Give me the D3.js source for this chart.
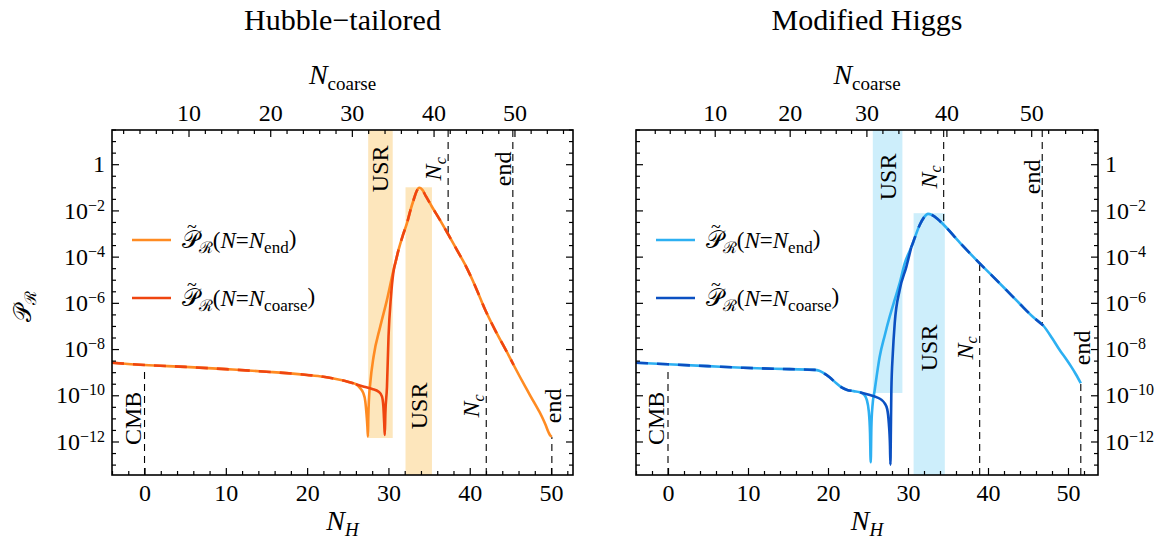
<!DOCTYPE html>
<html><head><meta charset="utf-8">
<script src="https://cdn.jsdelivr.net/npm/d3@7"></script>
<style>
body{margin:0;background:#fff;}
svg text{font-family:"Liberation Serif","Times New Roman",serif;fill:#000;}
</style></head><body>
<svg id="chart" width="1172" height="541" font-family="Liberation Serif"></svg>
<script>
// ---------------- data ----------------
const panelTitles = ["Hubble\u2212tailored", "Modified Higgs"];
const xTickValues = [0, 10, 20, 30, 40, 50];
const coarseTickValues = [10, 20, 30, 40, 50];
const yTickExponents = [0, -2, -4, -6, -8, -10, -12];
const legendLabels = ["end", "coarse"];

// N_coarse ticks located on the N_H axis
const htCoarseKnots = [10, 20, 30, 40, 50];
const htCoarseAtNH  = [5.41, 15.46, 25.50, 35.55, 45.50];
const mhCoarseKnots = [10, 20, 30, 40, 50];
const mhCoarseAtNH  = [5.84, 15.21, 24.80, 34.80, 45.40];

// curves: [N_H, log10 P_R]
// Hubble-tailored
const htShared1 = [[-4,-8.59],[0,-8.69],[5,-8.77],[10,-8.87],[15,-8.98],[20,-9.12],[22,-9.2],[24,-9.33],[25,-9.41],[26,-9.52]];
const htEndBranch = [[26,-9.52],[26.5,-9.68],[26.9,-9.9],[27.15,-10.25],[27.3,-10.8],[27.42,-11.4],[27.48,-11.79],[27.52,-11.0],[27.6,-10.2],[27.76,-9.48],[28.17,-8.33],[28.99,-7.03],[29.82,-5.87],[30.63,-4.58],[30.9,-4.2]];
const htCoarseBranch = [[26,-9.52],[27,-9.63],[28,-9.73],[28.8,-9.85],[29.2,-10.05],[29.38,-10.5],[29.48,-11.2],[29.55,-11.72],[29.62,-10.8],[29.82,-9.63],[30.01,-7.46],[30.31,-5.73],[30.6,-4.7],[30.9,-4.2]];
const htShared2 = [[30.9,-4.2],[31.24,-3.71],[31.8,-3.05],[32.28,-2.55],[32.7,-2.0],[33.09,-1.55],[33.45,-1.18],[33.8,-1.02],[34.15,-1.1],[34.6,-1.38],[35.35,-1.84],[36.4,-2.45],[37.39,-3.06],[38.4,-3.7],[39.45,-4.36],[40.7,-5.3],[41.91,-6.31],[43.3,-7.3],[44.77,-8.26],[45.4,-8.69]];
const htEndTail = [[45.4,-8.69],[46.83,-9.63],[47.9,-10.3],[48.88,-10.93],[49.35,-11.3],[49.69,-11.6],[49.95,-11.76],[50.1,-11.79]];
// Modified Higgs
const mhShared1 = [[-4,-8.59],[0,-8.66],[5,-8.74],[9.4,-8.81],[15.2,-8.87],[18.3,-8.9],[18.9,-8.94],[19.5,-9.05],[20.2,-9.22],[21.0,-9.47],[21.7,-9.66],[22.4,-9.77],[23.2,-9.82],[24.0,-9.87]];
const mhEndBranch = [[24.0,-9.87],[24.5,-9.97],[24.85,-10.2],[25.1,-10.7],[25.25,-11.6],[25.34,-12.9],[25.42,-11.4],[25.55,-10.5],[25.84,-9.77],[26.46,-8.33],[27.1,-7.4],[27.71,-6.6],[28.35,-5.85],[28.96,-5.15],[29.59,-4.29],[30.4,-3.6]];
const mhCoarseBranch = [[24.0,-9.87],[25.0,-9.97],[26.05,-10.08],[26.7,-10.2],[27.09,-10.35],[27.4,-10.6],[27.6,-11.2],[27.75,-12.2],[27.8,-13.0],[27.86,-11.5],[27.92,-9.77],[28.1,-8.2],[28.34,-6.88],[28.96,-5.44],[29.8,-4.43],[30.4,-3.6]];
const mhShared2 = [[30.4,-3.6],[30.6,-3.42],[31.46,-2.63],[32.0,-2.3],[32.5,-2.15],[33.0,-2.2],[33.7,-2.37],[34.4,-2.6],[36.5,-3.4],[38.96,-4.29],[40.5,-4.82],[42.3,-5.45],[44.0,-6.05],[45.6,-6.6],[46.9,-6.98]];
const mhEndTail = [[46.9,-6.98],[48.0,-7.52],[48.96,-8.04],[49.7,-8.4],[50.4,-8.76],[51.0,-9.1],[51.6,-9.48]];

// annotations
// top (N_coarse): USR band [from,to], band lower end log10P ; lines [label, N_coarse, lower end log10P]
const htTopUSR = [32.0, 35.0, -11.85];
const htTopLines = [["Nc", 41.8, -3.06], ["end", 49.8, -8.26]];
// bottom (N_H): USR band [from,to], band upper end log10P ; lines [label, N_H, upper end log10P]
const htBottomUSR = [32.1, 35.35, -1.0];
const htBottomLines = [["CMB", 0, -8.82], ["Nc", 42.03, -6.81], ["end", 50.1, -11.79]];
const mhTopUSR = [30.8, 34.5, -9.9];
const mhTopLines = [["Nc", 39.66, -2.48], ["end", 51.3, -6.96]];
const mhBottomUSR = [30.7, 34.6, -2.12];
const mhBottomLines = [["CMB", 0, -8.83], ["Nc", 38.96, -4.29], ["end", 51.6, -9.48]];

// ---------------- drawing ----------------
const SERIF = "Liberation Serif";
const MATHF = "DejaVu Serif";
const svg = d3.select("#chart");
const yTop = 130, yBot = 475;
const yExpDomain = [-13.45, 1.48];
const y = d3.scaleLog().domain([Math.pow(10, yExpDomain[0]), Math.pow(10, yExpDomain[1])]).range([yBot, yTop]);
const P = e => Math.pow(10, e);

const panels = [
  {title: panelTitles[0], x0: 112, x1: 573, xDom: [-4, 52.7], knots: htCoarseKnots, atNH: htCoarseAtNH,
   s1: htShared1, eb: htEndBranch, cb: htCoarseBranch, s2: htShared2, et: htEndTail,
   cEnd: "#ff8b22", cCoarse: "#ef4510", band: "#fde6bc",
   topUSR: htTopUSR, topLines: htTopLines, botUSR: htBottomUSR, botLines: htBottomLines,
   topLabelL: -0.2, botLabelL: -10.46, yLabels: "left"},
  {title: panelTitles[1], x0: 636, x1: 1098, xDom: [-4, 53.75], knots: mhCoarseKnots, atNH: mhCoarseAtNH,
   s1: mhShared1, eb: mhEndBranch, cb: mhCoarseBranch, s2: mhShared2, et: mhEndTail,
   cEnd: "#2db0f2", cCoarse: "#0b50c2", band: "#cdeefb",
   topUSR: mhTopUSR, topLines: mhTopLines, botUSR: mhBottomUSR, botLines: mhBottomLines,
   topLabelL: -0.55, botLabelL: -7.95, yLabels: "right"}
];

function styleAxis(g, size) {
  g.select(".domain").remove();
  g.selectAll(".tick line").attr("stroke", "#000").attr("stroke-width", 1.2);
  g.attr("font-family", SERIF).attr("font-size", size);
  g.selectAll(".tick text").attr("font-family", SERIF);
}

function mathLabel(sel, main, sub, mainSize, subSize, subItalic) {
  sel.append("tspan").attr("font-style", "italic").attr("font-size", mainSize).text(main);
  sel.append("tspan").attr("font-size", subSize).attr("font-style", subItalic ? "italic" : "normal")
    .attr("dy", "0.3em").text(sub);
}

function rotLabel(g, x, yc, kind) {
  const t = g.append("text").attr("transform", `translate(${x},${yc}) rotate(-90)`)
    .attr("text-anchor", "middle").attr("font-size", 24).attr("font-family", SERIF);
  if (kind === "Nc") {
    t.append("tspan").attr("font-style", "italic").text("N");
    t.append("tspan").attr("font-style", "italic").attr("font-size", 16).attr("dy", "0.3em").text("c");
  } else t.text(kind);
}

panels.forEach(p => {
  const x = d3.scaleLinear().domain(p.xDom).range([p.x0, p.x1]);
  const xc = d3.scaleLinear().domain(p.knots).range(p.atNH.map(v => x(v)));
  const g = svg.append("g");
  const clipId = "clip" + p.x0;
  svg.append("clipPath").attr("id", clipId).append("rect")
    .attr("x", p.x0).attr("y", yTop).attr("width", p.x1 - p.x0).attr("height", yBot - yTop);
  const plot = g.append("g").attr("clip-path", `url(#${clipId})`);

  // bands
  plot.append("rect").attr("x", xc(p.topUSR[0])).attr("width", xc(p.topUSR[1]) - xc(p.topUSR[0]))
    .attr("y", yTop).attr("height", y(P(p.topUSR[2])) - yTop).attr("fill", p.band);
  plot.append("rect").attr("x", x(p.botUSR[0])).attr("width", x(p.botUSR[1]) - x(p.botUSR[0]))
    .attr("y", y(P(p.botUSR[2]))).attr("height", yBot - y(P(p.botUSR[2]))).attr("fill", p.band);

  // dashed lines
  p.topLines.forEach(l => {
    plot.append("line").attr("x1", xc(l[1])).attr("x2", xc(l[1])).attr("y1", yTop).attr("y2", y(P(l[2])))
      .attr("stroke", "#000").attr("stroke-width", 1.1).attr("stroke-dasharray", "7,5");
  });
  p.botLines.forEach(l => {
    plot.append("line").attr("x1", x(l[1])).attr("x2", x(l[1])).attr("y1", yBot).attr("y2", y(P(l[2])))
      .attr("stroke", "#000").attr("stroke-width", 1.1).attr("stroke-dasharray", "7,5");
  });

  // curves
  const line = d3.line().x(d => x(d[0])).y(d => y(P(d[1]))).curve(d3.curveMonotoneX);
  const endFull = p.s1.concat(p.eb.slice(1), p.s2.slice(1), p.et.slice(1));
  plot.append("path").attr("d", line(endFull)).attr("fill", "none").attr("stroke", p.cEnd)
    .attr("stroke-width", 2.6).attr("stroke-linejoin", "round");
  plot.append("path").attr("d", line(p.cb)).attr("fill", "none").attr("stroke", p.cCoarse)
    .attr("stroke-width", 2.6).attr("stroke-linejoin", "round");
  [p.s1, p.s2].forEach(s => {
    plot.append("path").attr("d", line(s)).attr("fill", "none").attr("stroke", p.cCoarse)
      .attr("stroke-width", 2.6).attr("stroke-dasharray", "12,9");
  });

  // annotation labels
  rotLabel(g, (xc(p.topUSR[0]) + xc(p.topUSR[1])) / 2 + 8, y(P(p.topLabelL)), "USR");
  p.topLines.forEach(l => rotLabel(g, xc(l[1]) + (l[0] === "Nc" ? -7 : -2), y(P(p.topLabelL)), l[0]));
  rotLabel(g, (x(p.botUSR[0]) + x(p.botUSR[1])) / 2 + 8, y(P(p.botLabelL)), "USR");
  p.botLines.forEach(l => {
    if (l[0] === "CMB") rotLabel(g, x(l[1]) - 4, y(P(-11.0)), "CMB");
    else rotLabel(g, x(l[1]) + (l[0] === "Nc" ? -7 : 9), y(P(p.botLabelL)), l[0]);
  });

  // axes: bottom N_H
  const gb = g.append("g").attr("transform", `translate(0,${yBot})`)
    .call(d3.axisBottom(x).tickValues(xTickValues).tickSize(-7).tickPadding(9));
  styleAxis(gb, 24);
  const minorX = d3.range(-4, 54, 2).filter(v => v >= p.xDom[0] && v <= p.xDom[1] && v % 10 !== 0);
  const gbm = g.append("g").attr("transform", `translate(0,${yBot})`)
    .call(d3.axisBottom(x).tickValues(minorX).tickSize(-4).tickFormat(""));
  styleAxis(gbm, 10);

  // top N_coarse
  const gt = g.append("g").attr("transform", `translate(0,${yTop})`)
    .call(d3.axisTop(xc).tickValues(coarseTickValues).tickSize(-7).tickPadding(9));
  styleAxis(gt, 24);
  const minorC = d3.range(0, 62, 2).filter(v => v % 10 !== 0 && xc(v) > p.x0 + 1 && xc(v) < p.x1 - 1);
  const gtm = g.append("g").attr("transform", `translate(0,${yTop})`)
    .call(d3.axisTop(xc).tickValues(minorC).tickSize(-4).tickFormat(""));
  styleAxis(gtm, 10);

  // y axes (both sides)
  const majorY = yTickExponents.map(P);
  const minorY = d3.range(-13, 1.6, 0.5).filter(e => !yTickExponents.includes(e)).map(P);
  [["left", p.x0], ["right", p.x1]].forEach(([side, xp]) => {
    const ax = side === "left" ? d3.axisLeft(y) : d3.axisRight(y);
    const ga = g.append("g").attr("transform", `translate(${xp},0)`)
      .call(ax.tickValues(majorY).tickSize(-7).tickPadding(7).tickFormat(""));
    styleAxis(ga, 24);
    const gm = g.append("g").attr("transform", `translate(${xp},0)`)
      .call((side === "left" ? d3.axisLeft(y) : d3.axisRight(y)).tickValues(minorY).tickSize(-4).tickFormat(""));
    styleAxis(gm, 10);
    if (side === p.yLabels) {
      ga.selectAll(".tick text").each(function(d) {
        const t = d3.select(this);
        const e = Math.round(Math.log10(d));
        if (e === 0) t.text("1");
        else {
          t.append("tspan").text("10");
          t.append("tspan").attr("font-size", 16).attr("dy", "-0.5em").text("\u2212" + (-e));
        }
      });
    }
  });

  // frame
  g.append("rect").attr("x", p.x0).attr("y", yTop).attr("width", p.x1 - p.x0).attr("height", yBot - yTop)
    .attr("fill", "none").attr("stroke", "#000").attr("stroke-width", 1.6);

  const xm = (p.x0 + p.x1) / 2;
  // title
  g.append("text").attr("x", xm).attr("y", 30).attr("text-anchor", "middle").attr("font-size", 30)
    .attr("font-family", SERIF).text(p.title);
  // top axis title
  const tt = g.append("text").attr("x", xm).attr("y", 84).attr("text-anchor", "middle").attr("font-family", SERIF);
  mathLabel(tt, "N", "coarse", 28, 19, false);
  // bottom axis title
  const bt = g.append("text").attr("x", xm).attr("y", 530).attr("text-anchor", "middle").attr("font-family", SERIF);
  mathLabel(bt, "N", "H", 28, 19, true);

  // legend
  [[p.cEnd, legendLabels[0], 240], [p.cCoarse, legendLabels[1], 298]].forEach(([c, lab, yy]) => {
    g.append("line").attr("x1", p.x0 + 20).attr("x2", p.x0 + 59).attr("y1", yy).attr("y2", yy)
      .attr("stroke", c).attr("stroke-width", 2.6);
    const t = g.append("text").attr("x", p.x0 + 70).attr("y", yy + 8).attr("font-size", 23).attr("font-family", SERIF);
    t.append("tspan").attr("font-family", MATHF).attr("font-size", 24).text("\ud835\udcab");
    // tilde placed over the script P, inside the same text
    t.append("tspan").attr("font-size", 18).attr("dx", -12).attr("dy", -15).attr("fill", "#000").text("~");
    t.append("tspan").attr("font-family", MATHF).attr("font-size", 16).attr("dx", 2).attr("dy", 20).text("\u211b");
    t.append("tspan").attr("dy", -5).text("(");
    t.append("tspan").attr("font-style", "italic").text("N");
    t.append("tspan").text("=");
    t.append("tspan").attr("font-style", "italic").text("N");
    t.append("tspan").attr("font-size", 17).attr("dy", "0.3em").text(lab);
    t.append("tspan").attr("dy", "-0.3em").text(")");
  });
});

// y-axis label (left)
const yl = svg.append("text").attr("transform", "translate(31,306) rotate(-90)").attr("text-anchor", "middle");
yl.append("tspan").attr("font-family", MATHF).attr("font-size", 24).text("\ud835\udcab");
yl.append("tspan").attr("font-family", MATHF).attr("font-size", 16).attr("dy", "0.3em").text("\u211b");
</script>
</body></html>
